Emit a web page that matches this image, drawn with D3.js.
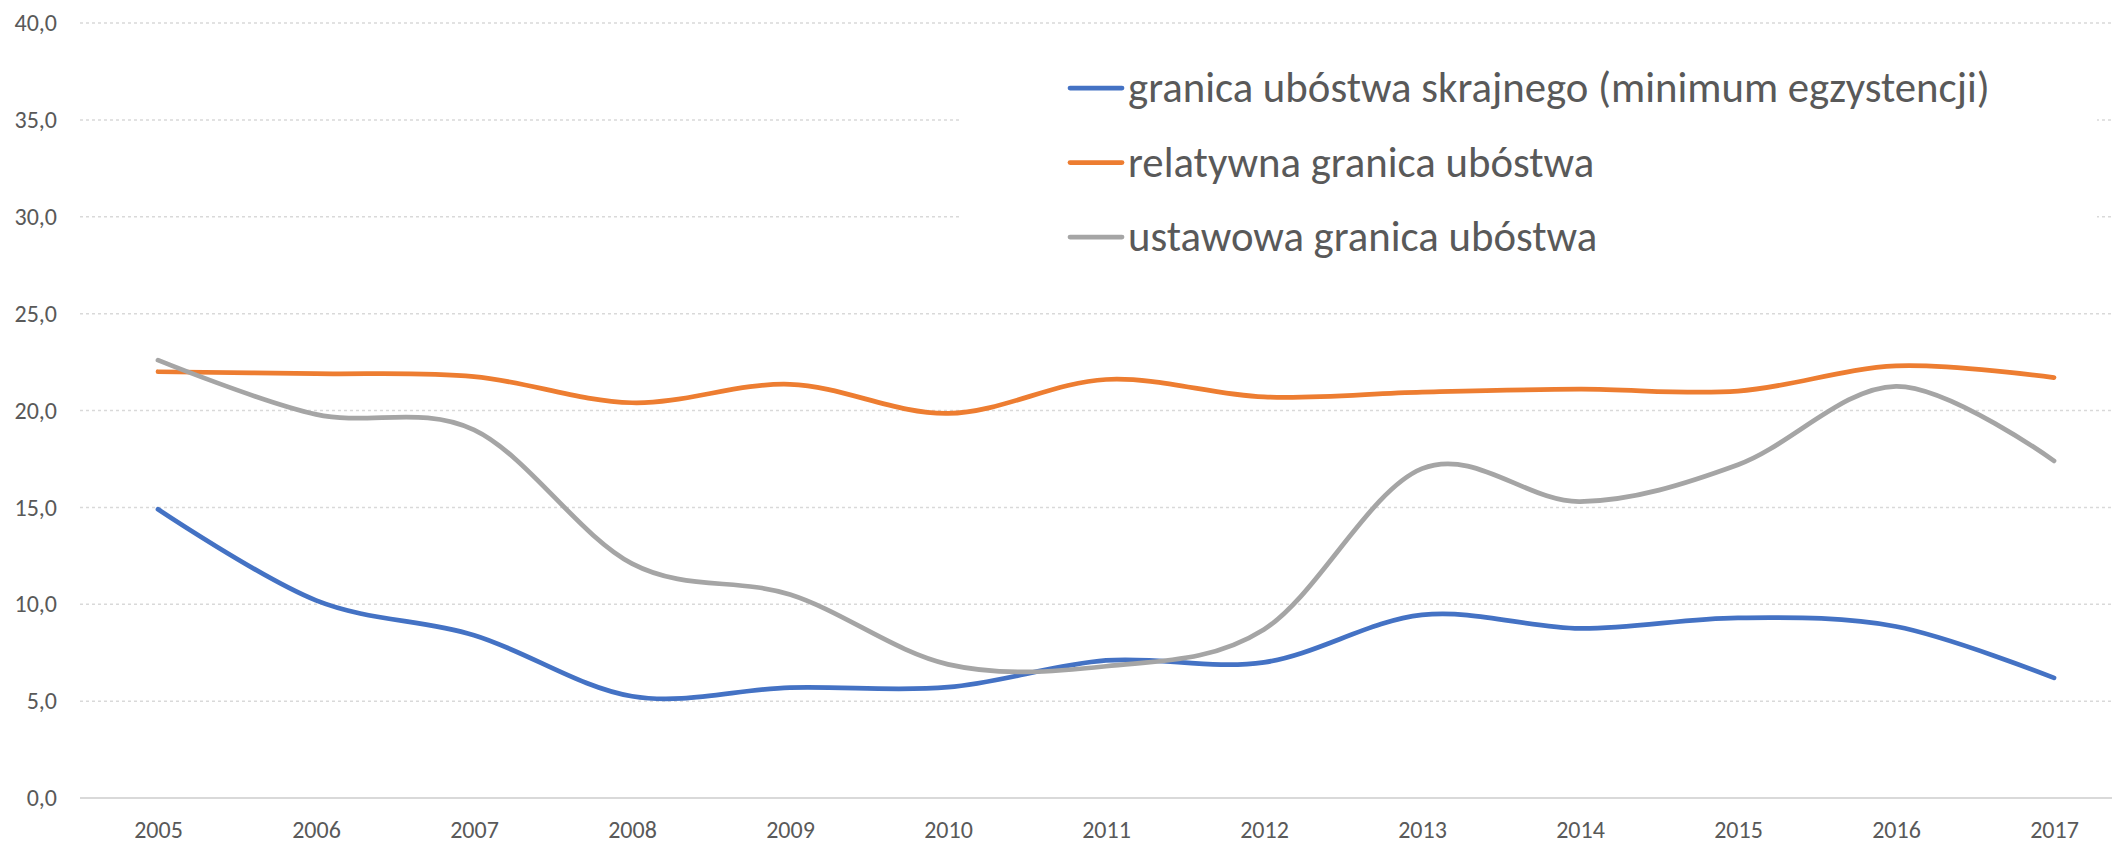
<!DOCTYPE html>
<html>
<head>
<meta charset="utf-8">
<script src="https://cdn.jsdelivr.net/npm/d3@7"></script>
<style>
  body { margin: 0; background: #fff; }
  text { font-family: Carlito, Calibri, "Liberation Sans Narrow", "Open Sans", sans-serif; fill: #595959; }
</style>
</head>
<body>
<div id="chart"></div>
<script>
// data
var years = ["2005", "2006", "2007", "2008", "2009", "2010", "2011", "2012", "2013", "2014", "2015", "2016", "2017"];
var skrajne = [14.9, 10.2, 8.4, 5.25, 5.7, 5.72, 7.1, 7.0, 9.45, 8.75, 9.3, 8.85, 6.2];
var relatywne = [22.0, 21.9, 21.75, 20.4, 21.35, 19.85, 21.6, 20.7, 20.95, 21.1, 21.0, 22.3, 21.7];
var ustawowe = [22.6, 19.8, 19.0, 12.1, 10.5, 6.9, 6.8, 8.7, 17.0, 15.3, 17.2, 21.25, 17.4];
var yTicks = [0, 5, 10, 15, 20, 25, 30, 35, 40];

var series = [
  { name: "granica ubóstwa skrajnego (minimum egzystencji)", values: skrajne, color: "#4472C4" },
  { name: "relatywna granica ubóstwa", values: relatywne, color: "#ED7D31" },
  { name: "ustawowa granica ubóstwa", values: ustawowe, color: "#A5A5A5" }
];

// set the dimensions of the graph
var width = 2112, height = 845;
var plotLeft = 80, plotRight = 2112, plotTop = 23, plotBottom = 798;

var svg = d3.select("#chart")
  .append("svg")
  .attr("width", width)
  .attr("height", height);

// x: one point per year, 158px apart starting at 158
var x = d3.scalePoint()
  .domain(years)
  .range([158, 158 + 158 * (years.length - 1)]);

var y = d3.scaleLinear()
  .domain([0, 40])
  .range([plotBottom, plotTop]);

// gridlines
svg.append("g")
  .selectAll("line")
  .data(yTicks.filter(function(d) { return d > 0; }))
  .enter()
  .append("line")
  .attr("x1", plotLeft)
  .attr("x2", plotRight)
  .attr("y1", function(d) { return y(d); })
  .attr("y2", function(d) { return y(d); })
  .attr("stroke", "#D9D9D9")
  .attr("stroke-width", 1.5)
  .attr("stroke-dasharray", "3,3");

// base axis line
svg.append("line")
  .attr("x1", plotLeft)
  .attr("x2", plotRight)
  .attr("y1", y(0))
  .attr("y2", y(0))
  .attr("stroke", "#D9D9D9")
  .attr("stroke-width", 2);

// y axis labels
var fmt = function(d) { return d3.format(".1f")(d).replace(".", ","); };
svg.append("g")
  .attr("transform", "translate(57,0)")
  .call(d3.axisLeft(y).tickValues(yTicks).tickFormat(fmt).tickSize(0).tickPadding(0))
  .call(function(g) { g.select(".domain").remove(); })
  .selectAll("text")
  .attr("font-size", 24)
  .attr("fill", "#595959");

// x axis labels
svg.append("g")
  .attr("transform", "translate(0," + plotBottom + ")")
  .call(d3.axisBottom(x).tickSize(0).tickPadding(23))
  .call(function(g) { g.select(".domain").remove(); })
  .selectAll("text")
  .attr("font-size", 24)
  .attr("fill", "#595959");

svg.selectAll("g").attr("font-family", null);

// smooth lines
var line = d3.line()
  .x(function(d, i) { return x(years[i]); })
  .y(function(d) { return y(d); })
  .curve(d3.curveCatmullRom.alpha(0));

// legend box (white, hides gridlines behind it)
svg.append("rect")
  .attr("x", 960)
  .attr("y", 30)
  .attr("width", 1137)
  .attr("height", 275)
  .attr("fill", "#fff");

svg.selectAll(".series")
  .data(series)
  .enter()
  .append("path")
  .attr("class", "series")
  .attr("d", function(d) { return line(d.values); })
  .attr("fill", "none")
  .attr("stroke", function(d) { return d.color; })
  .attr("stroke-width", 4.75)
  .attr("stroke-linecap", "round")
  .attr("stroke-linejoin", "round");

// legend
var legend = svg.append("g");
var rows = legend.selectAll("g")
  .data(series)
  .enter()
  .append("g")
  .attr("transform", function(d, i) { return "translate(1068," + (88 + i * 74.5) + ")"; });

rows.append("line")
  .attr("x1", 2)
  .attr("x2", 54)
  .attr("stroke", function(d) { return d.color; })
  .attr("stroke-width", 4.75)
  .attr("stroke-linecap", "round");

var labels = rows.append("text")
  .attr("x", 60)
  .attr("dy", "0.33em")
  .attr("font-size", 42)
  .text(function(d) { return d.name; });

// fit legend font to the measured width of the first entry
var w = labels.node().getComputedTextLength();
var fs = 42 * 862 / w;
labels.attr("font-size", fs);
</script>
</body>
</html>
